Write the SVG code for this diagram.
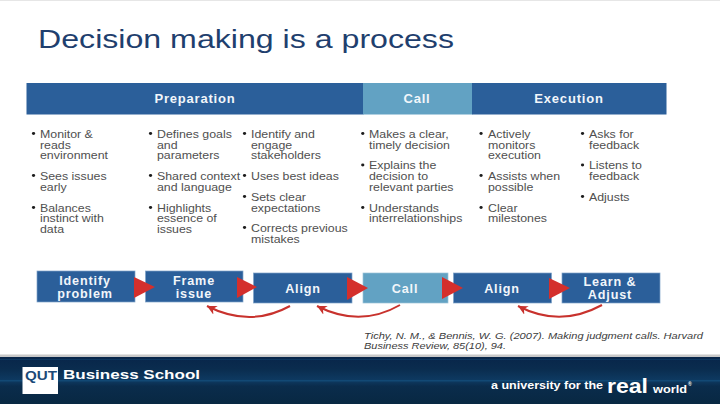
<svg xmlns="http://www.w3.org/2000/svg" width="720" height="404" viewBox="0 0 720 404">
<defs>
<linearGradient id="foot" x1="0" y1="0" x2="0" y2="1">
<stop offset="0" stop-color="#08264a"/><stop offset="0.25" stop-color="#0a2c4e"/><stop offset="0.5" stop-color="#0e3a62"/><stop offset="0.62" stop-color="#0a2c4c"/><stop offset="1" stop-color="#082842"/>
</linearGradient>
<marker id="ah" viewBox="0 0 10 10" refX="0" refY="5" markerWidth="4.800" markerHeight="4.800" orient="auto"><path d="M0 5L10 0L7 5L10 10Z" fill="#c8322d"/></marker>
</defs>
<style>
.b{font:10.700px "Liberation Sans",Arial,sans-serif;fill:#505050}
.h{font:bold 13px "Liberation Sans",Arial,sans-serif;letter-spacing:.8px;fill:#f2f6fa;text-anchor:middle}
.s{font:bold 12.600px "Liberation Sans",Arial,sans-serif;letter-spacing:.85px;fill:#f2f6fa;text-anchor:middle}
.d{fill:#1c1c1c}
.dark{fill:#2b5f9a;stroke:#7fa3c8;stroke-width:.7}
.light{fill:#62a2c3;stroke:#9cc3d8;stroke-width:.7}
.tri{fill:#d42f2c}
.loop{fill:none;stroke:#c8322d;stroke-width:2}
.f{font-family:"Liberation Sans",Arial,sans-serif;font-weight:bold;fill:#fff}
.c{font:italic 9px "Liberation Sans",Arial,sans-serif;fill:#3c3c3c}
</style>
<rect width="720" height="404" fill="#fff"/>
<rect width="720" height="1" fill="#e6e6e6"/>
<text x="38" y="47.500" font-family="Liberation Sans,Arial,sans-serif" font-size="25" fill="#1f3f6e" textLength="416" lengthAdjust="spacingAndGlyphs">Decision making is a process</text>

<g id="header-preparation"><rect x="26.500" y="83" width="337" height="31.500" fill="#2b5f9a"/><text class="h" x="195" y="103">Preparation</text></g>
<g id="header-call"><rect x="363" y="83" width="109.500" height="31.500" fill="#62a2c3"/><text class="h" x="417" y="103">Call</text></g>
<g id="header-execution"><rect x="472" y="83" width="194.500" height="31.500" fill="#2b5f9a"/><text class="h" x="569" y="103">Execution</text></g>

<g id="list-1" transform="translate(40 0) scale(1.156 1)">
<circle class="d" cx="-5.600" cy="133.500" r="1.400"/><text class="b" x="0" y="138">Monitor &amp;</text><text class="b" x="0" y="149">reads</text><text class="b" x="0" y="159.500">environment</text>
<circle class="d" cx="-5.600" cy="175.500" r="1.400"/><text class="b" x="0" y="180">Sees issues</text><text class="b" x="0" y="191">early</text>
<circle class="d" cx="-5.600" cy="207.500" r="1.400"/><text class="b" x="0" y="212">Balances</text><text class="b" x="0" y="222.500">instinct with</text><text class="b" x="0" y="233">data</text>
</g>
<g id="list-2" transform="translate(157 0) scale(1.156 1)">
<circle class="d" cx="-5.600" cy="133.500" r="1.400"/><text class="b" x="0" y="138">Defines goals</text><text class="b" x="0" y="149">and</text><text class="b" x="0" y="159.500">parameters</text>
<circle class="d" cx="-5.600" cy="175.500" r="1.400"/><text class="b" x="0" y="180">Shared context</text><text class="b" x="0" y="191">and language</text>
<circle class="d" cx="-5.600" cy="207.500" r="1.400"/><text class="b" x="0" y="212">Highlights</text><text class="b" x="0" y="222.500">essence of</text><text class="b" x="0" y="233">issues</text>
</g>
<g id="list-3" transform="translate(251 0) scale(1.156 1)">
<circle class="d" cx="-5.600" cy="133.500" r="1.400"/><text class="b" x="0" y="138">Identify and</text><text class="b" x="0" y="149">engage</text><text class="b" x="0" y="159.500">stakeholders</text>
<circle class="d" cx="-5.600" cy="175.500" r="1.400"/><text class="b" x="0" y="180">Uses best ideas</text>
<circle class="d" cx="-5.600" cy="196.500" r="1.400"/><text class="b" x="0" y="201">Sets clear</text><text class="b" x="0" y="212">expectations</text>
<circle class="d" cx="-5.600" cy="227.500" r="1.400"/><text class="b" x="0" y="232">Corrects previous</text><text class="b" x="0" y="243">mistakes</text>
</g>
<g id="list-4" transform="translate(369 0) scale(1.156 1)">
<circle class="d" cx="-5.400" cy="133.500" r="1.400"/><text class="b" x="0" y="138">Makes a clear,</text><text class="b" x="0" y="149">timely decision</text>
<circle class="d" cx="-5.400" cy="165" r="1.400"/><text class="b" x="0" y="169.500">Explains the</text><text class="b" x="0" y="180">decision to</text><text class="b" x="0" y="191">relevant parties</text>
<circle class="d" cx="-5.400" cy="207.500" r="1.400"/><text class="b" x="0" y="212">Understands</text><text class="b" x="0" y="222.500">interrelationships</text>
</g>
<g id="list-5" transform="translate(488 0) scale(1.156 1)">
<circle class="d" cx="-6" cy="133.500" r="1.400"/><text class="b" x="0" y="138">Actively</text><text class="b" x="0" y="149">monitors</text><text class="b" x="0" y="159.500">execution</text>
<circle class="d" cx="-6" cy="175.500" r="1.400"/><text class="b" x="0" y="180">Assists when</text><text class="b" x="0" y="191">possible</text>
<circle class="d" cx="-6" cy="207.500" r="1.400"/><text class="b" x="0" y="212">Clear</text><text class="b" x="0" y="222.500">milestones</text>
</g>
<g id="list-6" transform="translate(589 0) scale(1.156 1)">
<circle class="d" cx="-5.600" cy="133.500" r="1.400"/><text class="b" x="0" y="138">Asks for</text><text class="b" x="0" y="149">feedback</text>
<circle class="d" cx="-5.600" cy="165" r="1.400"/><text class="b" x="0" y="169.500">Listens to</text><text class="b" x="0" y="180">feedback</text>
<circle class="d" cx="-5.600" cy="196.500" r="1.400"/><text class="b" x="0" y="201">Adjusts</text>
</g>

<g id="step-identify"><rect class="dark" x="37" y="271" width="98" height="31"/><text class="s" x="85" y="285">Identify</text><text class="s" x="85" y="298">problem</text></g>
<g id="step-frame"><rect class="dark" x="145.500" y="271" width="97.500" height="31"/><text class="s" x="194" y="285">Frame</text><text class="s" x="194" y="298">issue</text></g>
<g id="step-align-1"><rect class="dark" x="253.500" y="273" width="98.500" height="30"/><text class="s" x="303" y="293">Align</text></g>
<g id="step-call"><rect class="light" x="363" y="273" width="85" height="30"/><text class="s" x="405" y="293">Call</text></g>
<g id="step-align-2"><rect class="dark" x="453.500" y="273" width="98" height="30"/><text class="s" x="502" y="293">Align</text></g>
<g id="step-learn"><rect class="dark" x="562" y="273" width="98" height="30"/><text class="s" x="610" y="286">Learn &amp;</text><text class="s" x="610" y="299">Adjust</text></g>

<g id="connectors">
<path class="tri" d="M134 277L155 287L134 298Z"/>
<path class="tri" d="M237 277L257 287L237 298Z"/>
<path class="tri" d="M347 277L368 288L347 300Z"/>
<path class="tri" d="M442 277L463 288L442 299Z"/>
<path class="tri" d="M549 278L570 288L549 299Z"/>
<path class="loop" marker-start="url(#ah)" d="M207 306Q250 328 290 306"/>
<path class="loop" marker-start="url(#ah)" d="M317 306Q360 328 400 305"/>
<path class="loop" marker-start="url(#ah)" d="M518 306Q560 328 602 305"/>
</g>

<text class="c" x="364" y="339" textLength="339" lengthAdjust="spacingAndGlyphs">Tichy, N. M., &amp; Bennis, W. G. (2007). Making judgment calls. Harvard</text>
<text class="c" x="364" y="348.500" textLength="142" lengthAdjust="spacingAndGlyphs">Business Review, 85(10), 94.</text>

<g id="footer">
<rect x="0" y="354.500" width="720" height="3" fill="#c8c8c8"/>
<rect x="0" y="357" width="720" height="47" fill="url(#foot)"/>
<rect x="0" y="359" width="720" height="1" fill="#123e68" opacity=".7"/>
<rect x="0" y="380" width="720" height="1.500" fill="#14507e" opacity=".7"/>
<rect x="22.500" y="367" width="35.500" height="27" fill="#fff"/>
<text class="f" x="25" y="379.500" font-size="13" style="fill:#1c4a78" textLength="32" lengthAdjust="spacingAndGlyphs">QUT</text>
<text class="f" x="63" y="378.500" font-size="13" textLength="137" lengthAdjust="spacingAndGlyphs">Business School</text>
<text class="f" x="491" y="388.500" font-size="10.500" textLength="112" lengthAdjust="spacingAndGlyphs">a university for the</text>
<text class="f" x="607" y="393" font-size="20" textLength="41" lengthAdjust="spacingAndGlyphs">real</text>
<text class="f" x="653" y="392.500" font-size="10" textLength="34" lengthAdjust="spacingAndGlyphs">world</text>
<text class="f" x="688" y="386" font-size="5">®</text>
</g>
</svg>
